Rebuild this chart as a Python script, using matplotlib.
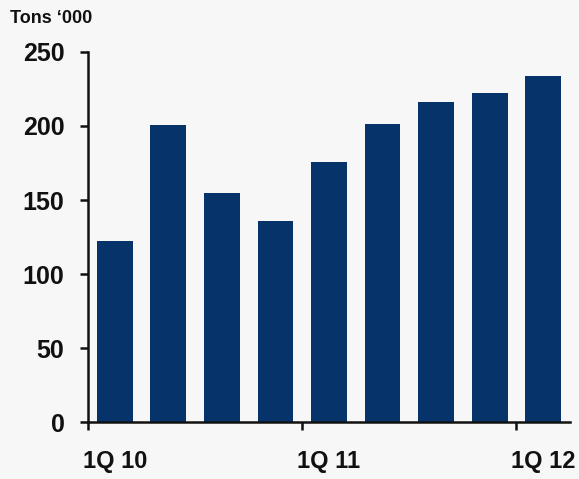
import matplotlib
matplotlib.use("Agg")
import matplotlib.pyplot as plt

quarters = ["1Q 10", "2Q 10", "3Q 10", "4Q 10", "1Q 11", "2Q 11", "3Q 11", "4Q 11", "1Q 12"]
volumes = [122.5, 200.5, 155, 135.5, 175.5, 201.5, 216.5, 222.5, 233.5]
shown_labels = ["1Q 10", "1Q 11", "1Q 12"]
y_ticks = [0, 50, 100, 150, 200, 250]
unit_label = "Tons \u2018000"

bar_color = "#05336a"
bg = "#f7f7f7"

plt.rcParams["font.family"] = ["Liberation Sans", "DejaVu Sans"]
plt.rcParams["font.weight"] = "bold"

fig = plt.figure(figsize=(5.79, 4.79), dpi=100, facecolor=bg)
ax = fig.add_axes([88 / 579, 57 / 479, 482 / 579, 370 / 479], facecolor=bg)

x = list(range(len(quarters)))
ax.bar(x, volumes, width=0.67, color=bar_color, edgecolor="none")

ax.set_xlim(-0.5, len(quarters) - 0.5)
ax.set_ylim(0, 250)

for side in ("top", "right"):
    ax.spines[side].set_visible(False)
for side in ("left", "bottom"):
    ax.spines[side].set_linewidth(1.8)
    ax.spines[side].set_color("#111111")

ax.set_yticks(y_ticks)
ax.set_yticklabels([str(v) for v in y_ticks])
ax.tick_params(axis="y", direction="out", length=6, width=1.8, pad=11,
               labelsize=18, color="#111111")

# boundary ticks at year starts, labels centered on the first-quarter bars
label_pos = [quarters.index(q) for q in shown_labels]
ax.set_xticks([p - 0.5 for p in label_pos])
ax.set_xticklabels([""] * len(label_pos))
ax.tick_params(axis="x", which="major", direction="out", length=6, width=1.8,
               color="#111111")
ax.set_xticks(label_pos, minor=True)
ax.set_xticklabels(shown_labels, minor=True)
ax.tick_params(axis="x", which="minor", length=0, pad=20, labelsize=17)

for lbl in ax.get_xticklabels(minor=True) + ax.get_yticklabels():
    lbl.set_fontweight("bold")
    lbl.set_color("#111111")

fig.text(10 / 579, 1 - 23 / 479, unit_label, fontsize=13, fontweight="bold",
         color="#111111", ha="left", va="baseline")

fig.savefig("out.png", dpi=100, facecolor=bg)
